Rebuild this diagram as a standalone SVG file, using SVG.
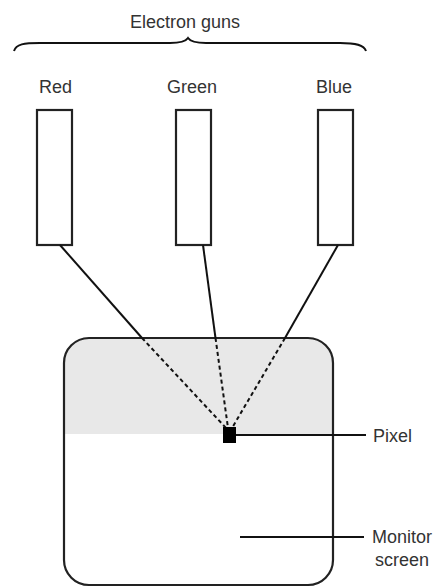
<svg xmlns="http://www.w3.org/2000/svg" width="435" height="587" viewBox="0 0 435 587">
  <style>
    .lbl { font-family: "Liberation Sans", Arial, sans-serif; font-size: 18px; fill: #333; }
    .gun { fill: #fff; stroke: #222; stroke-width: 2.2; }
    .beam { fill: none; stroke: #111; stroke-width: 2; }
    .beam-in { fill: none; stroke: #111; stroke-width: 2; stroke-dasharray: 4 3; }
    .lead { fill: none; stroke: #111; stroke-width: 2; }
  </style>

  <g id="electron-guns-label">
    <text class="lbl" x="185" y="28" text-anchor="middle">Electron guns</text>
    <path d="M14,51 C16,44 24,43 40,43 L170,43 C182,43 186,41 188,38 C190,41 194,43 206,43 L340,43 C356,43 364,45 366,51" fill="none" stroke="#111" stroke-width="2"/>
  </g>

  <g id="monitor">
    <defs>
      <clipPath id="screenClip">
        <rect x="64" y="338" width="269" height="247" rx="25" ry="25"/>
      </clipPath>
    </defs>
    <rect x="64" y="338" width="269" height="247" rx="25" ry="25" fill="#fff"/>
    <rect x="64" y="338" width="269" height="96" fill="#e8e8e8" clip-path="url(#screenClip)"/>
    <rect x="64" y="338" width="269" height="247" rx="25" ry="25" fill="none" stroke="#222" stroke-width="2.2"/>
  </g>

  <g id="gun-red">
    <text class="lbl" x="39" y="93">Red</text>
    <rect class="gun" x="37" y="110" width="35" height="135"/>
  </g>
  <g id="gun-green">
    <text class="lbl" x="167" y="93">Green</text>
    <rect class="gun" x="176" y="110" width="35" height="135"/>
  </g>
  <g id="gun-blue">
    <text class="lbl" x="316" y="93">Blue</text>
    <rect class="gun" x="318" y="110" width="35" height="135"/>
  </g>

  <g id="connectors">
    <!-- beams outside the screen -->
    <line class="beam" x1="60" y1="245" x2="142" y2="338"/>
    <line class="beam" x1="203" y1="245" x2="215.5" y2="338"/>
    <line class="beam" x1="338" y1="245" x2="285" y2="338"/>
    <!-- beams behind the glass -->
    <line class="beam-in" x1="142" y1="338" x2="226" y2="428"/>
    <line class="beam-in" x1="215.5" y1="338" x2="228" y2="428"/>
    <line class="beam-in" x1="285" y1="338" x2="232" y2="428"/>
    <!-- callout leaders -->
    <line class="lead" x1="235" y1="435" x2="366" y2="435"/>
    <line class="lead" x1="240" y1="537" x2="364" y2="537"/>
  </g>

  <g id="pixel">
    <rect x="223" y="427" width="13" height="16" fill="#000"/>
    <text class="lbl" x="373" y="442">Pixel</text>
  </g>

  <g id="monitor-label">
    <text class="lbl" x="372" y="543">Monitor</text>
    <text class="lbl" x="375" y="566">screen</text>
  </g>
</svg>
